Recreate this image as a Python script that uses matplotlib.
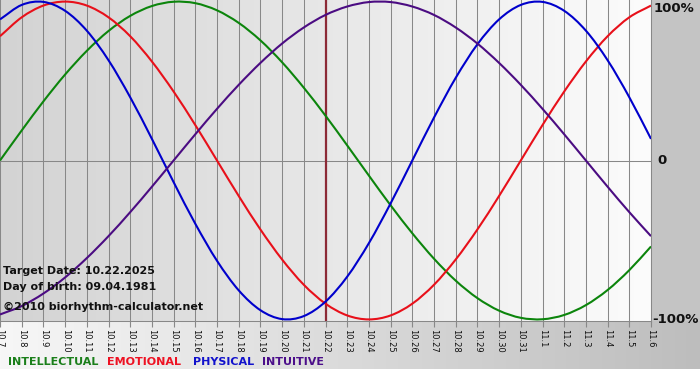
# biorhythm chart, 31 days around the target date
import numpy as np
import matplotlib.pyplot as plt
from matplotlib.colors import LinearSegmentedColormap
from matplotlib.path import Path
from matplotlib.patches import PathPatch

####################################################################
# data (value of each cycle per day, -1..1)
days = ['10.7', '10.8', '10.9', '10.10', '10.11', '10.12', '10.13', '10.14',
        '10.15', '10.16', '10.17', '10.18', '10.19', '10.20', '10.21', '10.22',
        '10.23', '10.24', '10.25', '10.26', '10.27', '10.28', '10.29', '10.30',
        '10.31', '11.1', '11.2', '11.3', '11.4', '11.5', '11.6']

physical = [0.888, 0.979, 0.998, 0.942, 0.817, 0.631, 0.398, 0.136,
            -0.136, -0.398, -0.631, -0.817, -0.942, -0.998, -0.979, -0.888,
            -0.731, -0.520, -0.270, 0.0, 0.270, 0.520, 0.731, 0.888,
            0.979, 0.998, 0.942, 0.817, 0.631, 0.398, 0.136]

emotional = [0.782, 0.901, 0.975, 1.0, 0.975, 0.901, 0.782, 0.623,
             0.434, 0.223, 0.0, -0.223, -0.434, -0.623, -0.782, -0.901,
             -0.975, -1.0, -0.975, -0.901, -0.782, -0.623, -0.434, -0.223,
             0.0, 0.223, 0.434, 0.623, 0.782, 0.901, 0.975]

intellectual = [0.0, 0.189, 0.372, 0.541, 0.690, 0.815, 0.910, 0.972,
                0.999, 0.990, 0.945, 0.866, 0.756, 0.618, 0.458, 0.282,
                0.095, -0.095, -0.282, -0.458, -0.618, -0.756, -0.866, -0.945,
                -0.990, -0.999, -0.972, -0.910, -0.815, -0.690, -0.541]

intuitive = [-0.969, -0.916, -0.837, -0.736, -0.614, -0.476, -0.325, -0.165,
             0.0, 0.165, 0.325, 0.476, 0.614, 0.736, 0.837, 0.916,
             0.969, 0.997, 0.997, 0.969, 0.916, 0.837, 0.736, 0.614,
             0.476, 0.325, 0.165, 0.0, -0.165, -0.325, -0.476]

target_day = '10.22'
target_text = 'Target Date: 10.22.2025'
birth_text = 'Day of birth: 09.04.1981'
credit_text = '\u00a92010 biorhythm-calculator.net'

legend_names = ['INTELLECTUAL', 'EMOTIONAL', 'PHYSICAL', 'INTUITIVE']

####################################################################
# colours
c_int = '#0c850c'
c_emo = '#e8101a'
c_phy = '#0000cc'
c_itu = '#4b0c82'
legend_colors = ['#1a7f1a', '#ee1122', '#1111cc', '#4b0e8a']


def smooth_curve(ax, xs, ys, color):
    # draw the daily points as one smooth bezier path (catmull-rom handles)
    pts = np.column_stack([xs, ys]).astype(float)
    ext = np.vstack([2 * pts[0] - pts[1], pts, 2 * pts[-1] - pts[-2]])
    verts = [pts[0]]
    codes = [Path.MOVETO]
    for i in range(len(pts) - 1):
        p0, p1, p2, p3 = ext[i], ext[i + 1], ext[i + 2], ext[i + 3]
        verts += [p1 + (p2 - p0) / 6, p2 - (p3 - p1) / 6, p2]
        codes += [Path.CURVE4] * 3
    ax.add_patch(PathPatch(Path(verts, codes), fill=False, edgecolor=color,
                           lw=1.5, zorder=3))


W, H = 700, 380
fig = plt.figure(figsize=(7, 3.8), dpi=100)
fig.patch.set_facecolor('white')

# background layer in pixel coordinates
bg = fig.add_axes([0, 0, 1, 1])
grad = np.linspace(0, 1, 256).reshape(1, -1)
band_cmap = LinearSegmentedColormap.from_list('band', ['#f7f7f7', '#bdbdbd'])
bg.imshow(grad, cmap=band_cmap, extent=[0, 700, 369, 321], aspect='auto')
bg.add_patch(plt.Rectangle((651, 0), 49, 321, color='#c4c4c4', lw=0))
bg.set_xlim(0, W)
bg.set_ylim(H, 0)
bg.axis('off')

####################################################################
# main plot
ax = fig.add_axes([0, 59 / H, 651 / W, 321 / H])
x = np.arange(len(days))
ymin, ymax = -1.01, 1.01

plot_cmap = LinearSegmentedColormap.from_list('plotbg', ['#d3d3d3', '#fcfcfc'])
ax.imshow(grad, cmap=plot_cmap, extent=[0, len(days) - 1, ymin, ymax],
          aspect='auto', zorder=0)

for i in x:
    ax.axvline(i, color='#888888', lw=0.75, zorder=1)
ax.axhline(0, color='#888888', lw=0.75, zorder=1)
ax.axvline(days.index(target_day), color='#8c2a36', lw=1.6, zorder=2)

smooth_curve(ax, x, intellectual, c_int)
smooth_curve(ax, x, emotional, c_emo)
smooth_curve(ax, x, physical, c_phy)
smooth_curve(ax, x, intuitive, c_itu)

ax.set_xlim(0, len(days) - 1)
ax.set_ylim(ymin, ymax)
ax.set_xticks(x)
ax.set_xticklabels(days, rotation=-90, fontsize=6, color='#111111')
ax.tick_params(axis='x', length=4, color='#888888', pad=1.5)
ax.set_yticks([])
for s in ['left', 'top']:
    ax.spines[s].set_visible(False)
for s in ['right', 'bottom']:
    ax.spines[s].set_color('#888888')
    ax.spines[s].set_linewidth(0.75)

# right side percent labels
ax.text(30.14, 1.0, '100%', ha='left', va='top', fontsize=9.5,
        fontweight='bold', color='#111111', clip_on=False)
ax.text(30.28, 0, '0', ha='left', va='center', fontsize=9.5,
        fontweight='bold', color='#111111', clip_on=False)
ax.text(30.04, -1.0, '-100%', ha='left', va='center', fontsize=9.5,
        fontweight='bold', color='#111111', clip_on=False)

####################################################################
# overlay texts
fig.text(3 / W, 1 - 271 / H, target_text, ha='left', va='center',
         fontsize=8, fontweight='bold', color='#111111')
fig.text(3 / W, 1 - 287 / H, birth_text, ha='left', va='center',
         fontsize=8, fontweight='bold', color='#111111')
fig.text(3 / W, 1 - 307 / H, credit_text, ha='left', va='center',
         fontsize=8, fontweight='bold', color='#111111')

# legend row
legend_x = [8, 107, 193, 262]
for name, col, lx in zip(legend_names, legend_colors, legend_x):
    fig.text(lx / W, 1 - 362 / H, name, ha='left', va='center',
             fontsize=8, fontweight='bold', color=col)

plt.savefig('out.png', dpi=100)
